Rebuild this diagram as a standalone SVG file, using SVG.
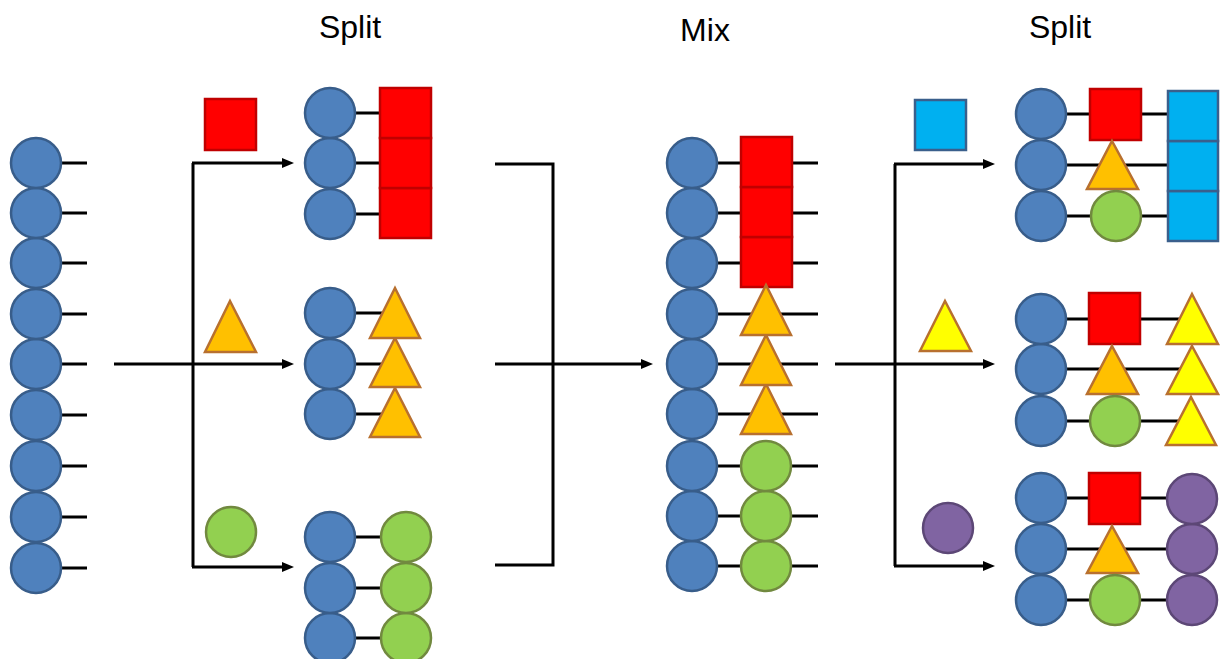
<svg xmlns="http://www.w3.org/2000/svg" width="1220" height="659" viewBox="0 0 1220 659">
<style>
.t{font-family:"Liberation Sans",Arial,sans-serif;font-size:32px;fill:#000}
.ln{stroke:#000;stroke-width:3;fill:none}
.bl{fill:#4F81BD;stroke:#385D8A;stroke-width:2.5}
.rd{fill:#FF0000;stroke:#C00000;stroke-width:2.5}
.or{fill:#FFC000;stroke:#B8702F;stroke-width:2.5}
.ye{fill:#FFFF00;stroke:#B8702F;stroke-width:2.5}
.gr{fill:#92D050;stroke:#71893F;stroke-width:2.5}
.cy{fill:#00B0F0;stroke:#3A5F8C;stroke-width:2.5}
.pu{fill:#8064A2;stroke:#5C4776;stroke-width:2.5}
</style>
<defs>
<marker id="ah" viewBox="0 0 12 10" refX="0" refY="5" markerWidth="12" markerHeight="10" markerUnits="userSpaceOnUse" orient="auto">
<path d="M0,0 L12,5 L0,10 z" fill="#000"/>
</marker>
</defs>
<rect width="1220" height="659" fill="#fff"/>
<g id="titles">
<text class="t" x="350" y="38" text-anchor="middle">Split</text>
<text class="t" x="705" y="41" text-anchor="middle">Mix</text>
<text class="t" x="1060" y="38" text-anchor="middle">Split</text>
</g>
<g id="connectors">
<path class="ln" d="M114,364 H282" marker-end="url(#ah)"/>
<path class="ln" d="M193,163 V567"/>
<path class="ln" d="M192,163 H282" marker-end="url(#ah)"/>
<path class="ln" d="M192,567 H282" marker-end="url(#ah)"/>
<path class="ln" d="M495,164 H553 V565 H495"/>
<path class="ln" d="M495,364 H641" marker-end="url(#ah)"/>
<path class="ln" d="M835,364 H983" marker-end="url(#ah)"/>
<path class="ln" d="M895,164 V566"/>
<path class="ln" d="M894,164 H983" marker-end="url(#ah)"/>
<path class="ln" d="M894,566 H983" marker-end="url(#ah)"/>
</g>
<g id="start-column">
<path class="ln" d="M40,163H87 M40,213H87 M40,263H87 M40,314H87 M40,364H87 M40,415H87 M40,466H87 M40,517H87 M40,568H87"/>
<circle class="bl" cx="36" cy="568" r="25"/>
<circle class="bl" cx="36" cy="517" r="25"/>
<circle class="bl" cx="36" cy="466" r="25"/>
<circle class="bl" cx="36" cy="415" r="25"/>
<circle class="bl" cx="36" cy="364" r="25"/>
<circle class="bl" cx="36" cy="314" r="25"/>
<circle class="bl" cx="36" cy="263" r="25"/>
<circle class="bl" cx="36" cy="213" r="25"/>
<circle class="bl" cx="36" cy="163" r="25"/>
</g>
<g id="add-red-square"><rect class="rd" x="205" y="99" width="51" height="51"/></g>
<g id="add-orange-triangle"><polygon class="or" points="230,301 256,352 205,352"/></g>
<g id="add-green-circle"><circle class="gr" cx="231" cy="532" r="25"/></g>
<g id="split1-red">
<path class="ln" d="M335,113H385 M335,163H385 M335,214H385"/>
<circle class="bl" cx="330" cy="214" r="25"/>
<circle class="bl" cx="330" cy="163" r="25"/>
<circle class="bl" cx="330" cy="113" r="25"/>
<rect class="rd" x="380" y="188" width="51" height="50"/>
<rect class="rd" x="380" y="138" width="51" height="50"/>
<rect class="rd" x="380" y="88" width="51" height="50"/>
</g>
<g id="split1-orange">
<path class="ln" d="M335,313H385 M335,364H385 M335,414H385"/>
<circle class="bl" cx="330" cy="414" r="25"/>
<circle class="bl" cx="330" cy="364" r="25"/>
<circle class="bl" cx="330" cy="313" r="25"/>
<polygon class="or" points="395,388 420,437 370,437"/>
<polygon class="or" points="395,338 420,387 370,387"/>
<polygon class="or" points="395,288 420,338 370,338"/>
</g>
<g id="split1-green">
<path class="ln" d="M335,537H400 M335,588H400 M335,638H400"/>
<circle class="bl" cx="330" cy="638" r="25"/>
<circle class="bl" cx="330" cy="588" r="25"/>
<circle class="bl" cx="330" cy="537" r="25"/>
<circle class="gr" cx="406" cy="638" r="25"/>
<circle class="gr" cx="406" cy="588" r="25"/>
<circle class="gr" cx="406" cy="537" r="25"/>
</g>
<g id="mix-column">
<path class="ln" d="M695,163H818 M695,213H818 M695,263H818 M695,314H818 M695,364H818 M695,414H818 M695,466H818 M695,516H818 M695,566H818"/>
<circle class="bl" cx="692" cy="566" r="25"/>
<circle class="bl" cx="692" cy="516" r="25"/>
<circle class="bl" cx="692" cy="466" r="25"/>
<circle class="bl" cx="692" cy="414" r="25"/>
<circle class="bl" cx="692" cy="364" r="25"/>
<circle class="bl" cx="692" cy="314" r="25"/>
<circle class="bl" cx="692" cy="263" r="25"/>
<circle class="bl" cx="692" cy="213" r="25"/>
<circle class="bl" cx="692" cy="163" r="25"/>
<rect class="rd" x="741" y="237" width="51" height="50"/>
<rect class="rd" x="741" y="187" width="51" height="50"/>
<rect class="rd" x="741" y="137" width="51" height="50"/>
<polygon class="or" points="766,384 791,434 741,434"/>
<polygon class="or" points="766,335 791,385 741,385"/>
<polygon class="or" points="766,285 791,335 741,335"/>
<circle class="gr" cx="766" cy="566" r="25"/>
<circle class="gr" cx="766" cy="516" r="25"/>
<circle class="gr" cx="766" cy="466" r="25"/>
</g>
<g id="add-cyan-square"><rect class="cy" x="915" y="100" width="51" height="50"/></g>
<g id="add-yellow-triangle"><polygon class="ye" points="945,301 971,351 920,351"/></g>
<g id="add-purple-circle"><circle class="pu" cx="948" cy="528" r="25"/></g>
<g id="split2-cyan">
<path class="ln" d="M1045,114H1172 M1045,165H1172 M1045,216H1172"/>
<circle class="bl" cx="1041" cy="216" r="25"/>
<circle class="bl" cx="1041" cy="165" r="25"/>
<circle class="bl" cx="1041" cy="114" r="25"/>
<rect class="rd" x="1090" y="89" width="51" height="51"/>
<polygon class="or" points="1112,141 1138,189 1087,189"/>
<circle class="gr" cx="1116" cy="216" r="25"/>
<rect class="cy" x="1168" y="191" width="50" height="50"/>
<rect class="cy" x="1168" y="141" width="50" height="50"/>
<rect class="cy" x="1168" y="91" width="50" height="50"/>
</g>
<g id="split2-yellow">
<path class="ln" d="M1045,319H1185 M1045,369H1185 M1045,421H1185"/>
<circle class="bl" cx="1041" cy="421" r="25"/>
<circle class="bl" cx="1041" cy="369" r="25"/>
<circle class="bl" cx="1041" cy="319" r="25"/>
<rect class="rd" x="1089" y="293" width="51" height="51"/>
<polygon class="or" points="1112,346 1138,394 1087,394"/>
<circle class="gr" cx="1115" cy="421" r="25"/>
<polygon class="ye" points="1191,397 1216,445 1166,445"/>
<polygon class="ye" points="1192,346 1218,394 1167,394"/>
<polygon class="ye" points="1192,294 1218,344 1167,344"/>
</g>
<g id="split2-purple">
<path class="ln" d="M1045,498H1185 M1045,549H1185 M1045,600H1185"/>
<circle class="bl" cx="1041" cy="600" r="25"/>
<circle class="bl" cx="1041" cy="549" r="25"/>
<circle class="bl" cx="1041" cy="498" r="25"/>
<rect class="rd" x="1089" y="473" width="51" height="51"/>
<polygon class="or" points="1112,526 1138,573 1087,573"/>
<circle class="gr" cx="1115" cy="600" r="25"/>
<circle class="pu" cx="1192" cy="600" r="25"/>
<circle class="pu" cx="1192" cy="549" r="25"/>
<circle class="pu" cx="1192" cy="499" r="25"/>
</g>
</svg>
